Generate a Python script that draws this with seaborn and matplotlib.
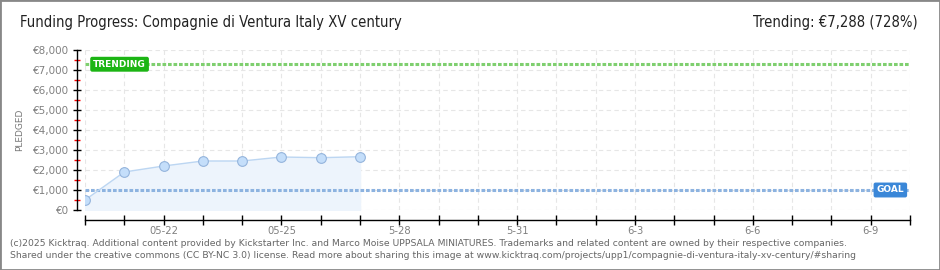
import numpy as np
import pandas as pd
import matplotlib
matplotlib.use("Agg")
import matplotlib.pyplot as plt
import seaborn as sns

dates = ["2025-05-20", "2025-05-21", "2025-05-22", "2025-05-23",
         "2025-05-24", "2025-05-25", "2025-05-26", "2025-05-27"]
pledged = [500, 1900, 2200, 2450, 2450, 2650, 2615, 2665]
goal = 1000
trending = 7288
y_ticks = [0, 1000, 2000, 3000, 4000, 5000, 6000, 7000, 8000]
y_labels = ["€0", "€1,000", "€2,000", "€3,000", "€4,000", "€5,000", "€6,000", "€7,000", "€8,000"]
x_label_dates = ["2025-05-22", "2025-05-25", "2025-05-28", "2025-05-31", "2025-06-03", "2025-06-06", "2025-06-09"]
x_labels = ["05-22", "05-25", "5-28", "5-31", "6-3", "6-6", "6-9"]
title = "Funding Progress: Compagnie di Ventura Italy XV century"
trend_text = "Trending: €7,288 (728%)"
footer1 = ("(c)2025 Kicktraq. Additional content provided by Kickstarter Inc. and Marco Moise UPPSALA MINIATURES. "
           "Trademarks and related content are owned by their respective companies.")
footer2 = ("Shared under the creative commons (CC BY-NC 3.0) license. Read more about sharing this image at "
           "www.kicktraq.com/projects/upp1/compagnie-di-ventura-italy-xv-century/#sharing")

df = pd.DataFrame({"date": pd.to_datetime(dates), "pledged": pledged})

sns.set_theme(style="white")
plt.rcParams['font.family'] = ['DejaVu Sans']

fig = plt.figure(figsize=(9.4, 2.7), dpi=100)
ax = fig.add_axes([85/940, 60/270, 825/940, 160/270])

x0 = pd.Timestamp("2025-05-20")
x1 = pd.Timestamp("2025-06-10")
ax.set_xlim(x0, x1)
ax.set_ylim(0, 8000)
all_days = pd.date_range(x0, x1, freq="D")

# grid
for d in all_days:
    ax.axvline(d, color="#e6e6e6", lw=0.8, ls=(0, (4, 3)), zorder=0)
for yv in y_ticks:
    ax.axhline(yv, color="#e6e6e6", lw=0.8, ls=(0, (4, 3)), zorder=0)

ax.fill_between(df["date"], df["pledged"], 0, color="#edf4fc", zorder=1)
sns.lineplot(data=df, x="date", y="pledged", ax=ax, color="#bcd6f2", lw=1,
             marker="o", markersize=7, markerfacecolor="#c4defa",
             markeredgecolor="#94b4dc", markeredgewidth=0.8, zorder=3)

ax.axhline(trending, color="#7fcf6f", lw=2.2, ls=(0, (1.2, 0.6)), zorder=2)
ax.axhline(goal, color="#8db3e0", lw=2.2, ls=(0, (1.2, 0.6)), zorder=2)

ax.text(pd.Timestamp("2025-05-20 05:00"), trending, "TRENDING", color="white", fontsize=6.5,
        fontweight="bold", va="center", ha="left", zorder=5,
        bbox=dict(boxstyle="round,pad=0.25,rounding_size=0.15", fc="#1cb514", ec="#1cb514"))
ax.text(pd.Timestamp("2025-06-09 12:00"), goal, "GOAL", color="white", fontsize=6.5,
        fontweight="bold", va="center", ha="center", zorder=5,
        bbox=dict(boxstyle="round,pad=0.25,rounding_size=0.15", fc="#3a87d8", ec="#3a87d8"))

# axes styling (offsets in points: 8 px and 10 px at 100 dpi)
sns.despine(ax=ax, offset={"left": 5.8, "bottom": 7.2}, trim=False)
for s in ["left", "bottom"]:
    ax.spines[s].set_color("black")
    ax.spines[s].set_linewidth(1)

ax.set_yticks(y_ticks)
ax.set_yticklabels(y_labels)
ax.set_yticks(np.arange(500, 8000, 1000), minor=True)
ax.tick_params(axis="y", which="major", left=True, direction="inout", length=6, width=1,
               color="black", labelsize=7.5, labelcolor="#808080", pad=3)
ax.tick_params(axis="y", which="minor", left=True, direction="inout", length=5, width=1,
               color="red")

ax.set_xticks(all_days)
lbl_map = dict(zip(pd.to_datetime(x_label_dates), x_labels))
ax.set_xticklabels([lbl_map.get(d, "") for d in all_days])
ax.tick_params(axis="x", which="major", bottom=True, direction="inout", length=7, width=1,
               color="black", labelsize=7.2, labelcolor="#808080", pad=1)
ax.tick_params(axis="x", which="minor", bottom=False)
ax.set_xlabel("")
ax.set_ylabel("PLEDGED", fontsize=6.5, color="#777777", labelpad=6)

fig.text(20/940, 1 - 22/270, title, fontsize=10.6, color="#222222", va="center", ha="left",
         fontstretch="condensed")
fig.text(918/940, 1 - 22/270, trend_text, fontsize=10.6, color="#222222", va="center", ha="right",
         fontstretch="condensed")
fig.text(10/940, 1 - 243/270, footer1, fontsize=6.7, color="#666666", va="center", ha="left")
fig.text(10/940, 1 - 256/270, footer2, fontsize=6.7, color="#666666", va="center", ha="left")

# outer border
fig.patches.append(plt.Rectangle((0, 0), 1, 1, transform=fig.transFigure, fill=False,
                                 ec="#888888", lw=2))

fig.savefig("out.png", dpi=100)
